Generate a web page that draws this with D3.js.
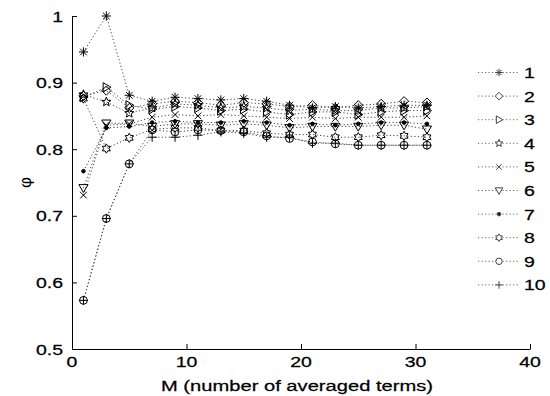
<!DOCTYPE html>
<html>
<head>
<meta charset="utf-8">
<script src="https://cdn.jsdelivr.net/npm/d3@7"></script>
<style>
  html, body { margin: 0; padding: 0; background: #fff; }
  svg { display: block; }
  text { font-family: "Liberation Sans", Arial, sans-serif; fill: #000; }
</style>
</head>
<body>
<svg id="chart" width="550" height="396"></svg>
<script>
// Number of averaged terms (x values shared by all series)
const mValues = [1, 3, 5, 7, 9, 11, 13, 15, 17, 19, 21, 23, 25, 27, 29, 31];

// phi for each of the ten cases
const series1  = [0.946, 1.000, 0.881, 0.872, 0.878, 0.876, 0.874, 0.876, 0.872, 0.866, 0.862, 0.864, 0.862, 0.864, 0.866, 0.866];
const series2  = [0.880, 0.888, 0.862, 0.868, 0.872, 0.870, 0.866, 0.870, 0.868, 0.864, 0.866, 0.862, 0.866, 0.868, 0.872, 0.870];
const series3  = [0.878, 0.893, 0.866, 0.860, 0.864, 0.862, 0.858, 0.860, 0.856, 0.852, 0.856, 0.856, 0.852, 0.856, 0.858, 0.858];
const series4  = [0.882, 0.871, 0.854, 0.862, 0.868, 0.866, 0.862, 0.864, 0.862, 0.858, 0.860, 0.858, 0.858, 0.862, 0.862, 0.864];
const series5  = [0.731, 0.836, 0.838, 0.848, 0.852, 0.850, 0.852, 0.850, 0.848, 0.846, 0.848, 0.846, 0.848, 0.848, 0.848, 0.850];
const series6  = [0.742, 0.839, 0.839, 0.834, 0.838, 0.838, 0.836, 0.838, 0.836, 0.832, 0.834, 0.834, 0.834, 0.836, 0.836, 0.830];
const series7  = [0.767, 0.832, 0.834, 0.840, 0.842, 0.840, 0.840, 0.842, 0.840, 0.836, 0.838, 0.836, 0.838, 0.840, 0.840, 0.838];
const series8  = [0.876, 0.801, 0.817, 0.830, 0.832, 0.832, 0.828, 0.828, 0.824, 0.822, 0.822, 0.818, 0.818, 0.821, 0.820, 0.818];
const series9  = [0.573, 0.696, 0.778, 0.829, 0.826, 0.829, 0.828, 0.826, 0.820, 0.816, 0.811, 0.808, 0.806, 0.806, 0.806, 0.806];
const series10 = [0.573, 0.696, 0.778, 0.818, 0.818, 0.821, 0.826, 0.824, 0.818, 0.818, 0.809, 0.809, 0.806, 0.806, 0.806, 0.806];

const seriesNames = ["1", "2", "3", "4", "5", "6", "7", "8", "9", "10"];
const seriesValues = [series1, series2, series3, series4, series5, series6, series7, series8, series9, series10];
const markerTypes = ["asterisk", "diamond", "triangleRight", "pentagram", "cross", "triangleDown", "dot", "hexagram", "circle", "plus"];

const xTicks = [0, 10, 20, 30, 40];
const yTicks = [0.5, 0.6, 0.7, 0.8, 0.9, 1];
const xLabel = "M (number of averaged terms)";
const yLabel = "\u03c6";

// ---- layout ----
const svg = d3.select("#chart");
svg.append("rect").attr("width", 550).attr("height", 396).attr("fill", "#fff");

const x = d3.scaleLinear().domain([0, 40]).range([72, 530]);
const y = d3.scaleLinear().domain([0.5, 1]).range([349, 16]);

const FONT = 15;       // text size
const STRETCH = 1.3;   // glyphs are drawn wide

// star outline with n points
function starPath(n, rOut, rIn, rot) {
  const p = d3.path();
  for (let i = 0; i < 2 * n; i++) {
    const r = i % 2 === 0 ? rOut : rIn;
    const a = rot + i * Math.PI / n;
    const px = r * Math.sin(a), py = -r * Math.cos(a);
    if (i === 0) p.moveTo(px, py); else p.lineTo(px, py);
  }
  p.closePath();
  return p.toString();
}

function markerPath(type, r) {
  const p = d3.path();
  const k = r * 0.72;
  switch (type) {
    case "asterisk":
      p.moveTo(-r, 0); p.lineTo(r, 0);
      p.moveTo(0, -r); p.lineTo(0, r);
      p.moveTo(-k, -k); p.lineTo(k, k);
      p.moveTo(-k, k); p.lineTo(k, -k);
      return p.toString();
    case "diamond":
      p.moveTo(0, -r); p.lineTo(r, 0); p.lineTo(0, r); p.lineTo(-r, 0); p.closePath();
      return p.toString();
    case "triangleRight":
      p.moveTo(r, 0); p.lineTo(-r * 0.7, -r); p.lineTo(-r * 0.7, r); p.closePath();
      return p.toString();
    case "triangleDown":
      p.moveTo(-r, -r * 0.7); p.lineTo(r, -r * 0.7); p.lineTo(0, r); p.closePath();
      return p.toString();
    case "cross":
      p.moveTo(-k, -k); p.lineTo(k, k);
      p.moveTo(-k, k); p.lineTo(k, -k);
      return p.toString();
    case "plus":
      p.moveTo(-r, 0); p.lineTo(r, 0);
      p.moveTo(0, -r); p.lineTo(0, r);
      return p.toString();
    case "pentagram":
      return starPath(5, r * 1.05, r * 0.45, 0);
    case "hexagram":
      return starPath(6, r * 1.0, r * 0.58, 0);
    case "circle":
      p.arc(0, 0, r * 0.85, 0, 2 * Math.PI);
      return p.toString();
    case "dot":
      p.arc(0, 0, 1.8, 0, 2 * Math.PI);
      return p.toString();
  }
}

// stretched text helper
function label(g, tx, ty, str, anchor, size) {
  return g.append("text")
    .attr("transform", `translate(${tx},${ty}) scale(${STRETCH},1)`)
    .attr("text-anchor", anchor)
    .attr("font-size", size || FONT)
    .attr("stroke", "#000")
    .attr("stroke-width", 0.25)
    .text(str);
}

// ---- data lines and markers ----
const line = d3.line().x((d, i) => x(mValues[i])).y(d => y(d));
const plot = svg.append("g");

seriesValues.forEach((vals, s) => {
  plot.append("path")
    .attr("d", line(vals))
    .attr("fill", "none")
    .attr("stroke", "#444")
    .attr("stroke-width", 1)
    .attr("stroke-dasharray", "1.2,2.3");
});

seriesValues.forEach((vals, s) => {
  const type = markerTypes[s];
  plot.append("g").selectAll("path")
    .data(vals)
    .join("path")
    .attr("transform", (d, i) => `translate(${x(mValues[i])},${y(d)})`)
    .attr("d", markerPath(type, 4.6))
    .attr("fill", type === "dot" ? "#000" : "none")
    .attr("stroke", "#000")
    .attr("stroke-width", 1);
});

// ---- axes (left and bottom only, ticks pointing inward) ----
const xAxis = d3.axisBottom(x).tickValues(xTicks).tickSizeInner(-5).tickSizeOuter(0).tickFormat("");
const yAxis = d3.axisLeft(y).tickValues(yTicks).tickSizeInner(-5).tickSizeOuter(0).tickFormat("");

const gx = svg.append("g").attr("transform", `translate(0,${y(0.5)})`).call(xAxis);
const gy = svg.append("g").attr("transform", `translate(${x(0)},0)`).call(yAxis);
[gx, gy].forEach(g => {
  g.select(".domain").attr("stroke", "#000").attr("stroke-width", 1);
  g.selectAll(".tick line").attr("stroke", "#000");
});

// tick labels
const tickLabels = svg.append("g");
xTicks.forEach(t => label(tickLabels, x(t), y(0.5) + 18, String(t), "middle"));
yTicks.forEach(t => label(tickLabels, x(0) - 9, y(t) + 5.5, t === 1 ? "1" : d3.format(".1f")(t), "end"));

// axis titles
label(svg, (x(0) + x(40)) / 2 - 4, 391, xLabel, "middle", 15.5);
svg.append("text")
  .attr("transform", `translate(31,${(y(0.5) + y(1)) / 2}) rotate(-90)`)
  .attr("text-anchor", "middle")
  .attr("font-size", 17)
  .text(yLabel);

// ---- legend ----
const legend = svg.append("g");
seriesNames.forEach((name, s) => {
  const ly = 72.5 + s * 23.6;
  legend.append("line")
    .attr("x1", 478).attr("x2", 520).attr("y1", ly).attr("y2", ly)
    .attr("stroke", "#666").attr("stroke-dasharray", "1.2,2.3");
  legend.append("path")
    .attr("transform", `translate(499,${ly})`)
    .attr("d", markerPath(markerTypes[s], 3.8))
    .attr("fill", markerTypes[s] === "dot" ? "#222" : "#fff")
    .attr("stroke", "#444")
    .attr("stroke-width", 1);
  label(legend, 524, ly + 5.5, name, "start");
});
</script>
</body>
</html>
